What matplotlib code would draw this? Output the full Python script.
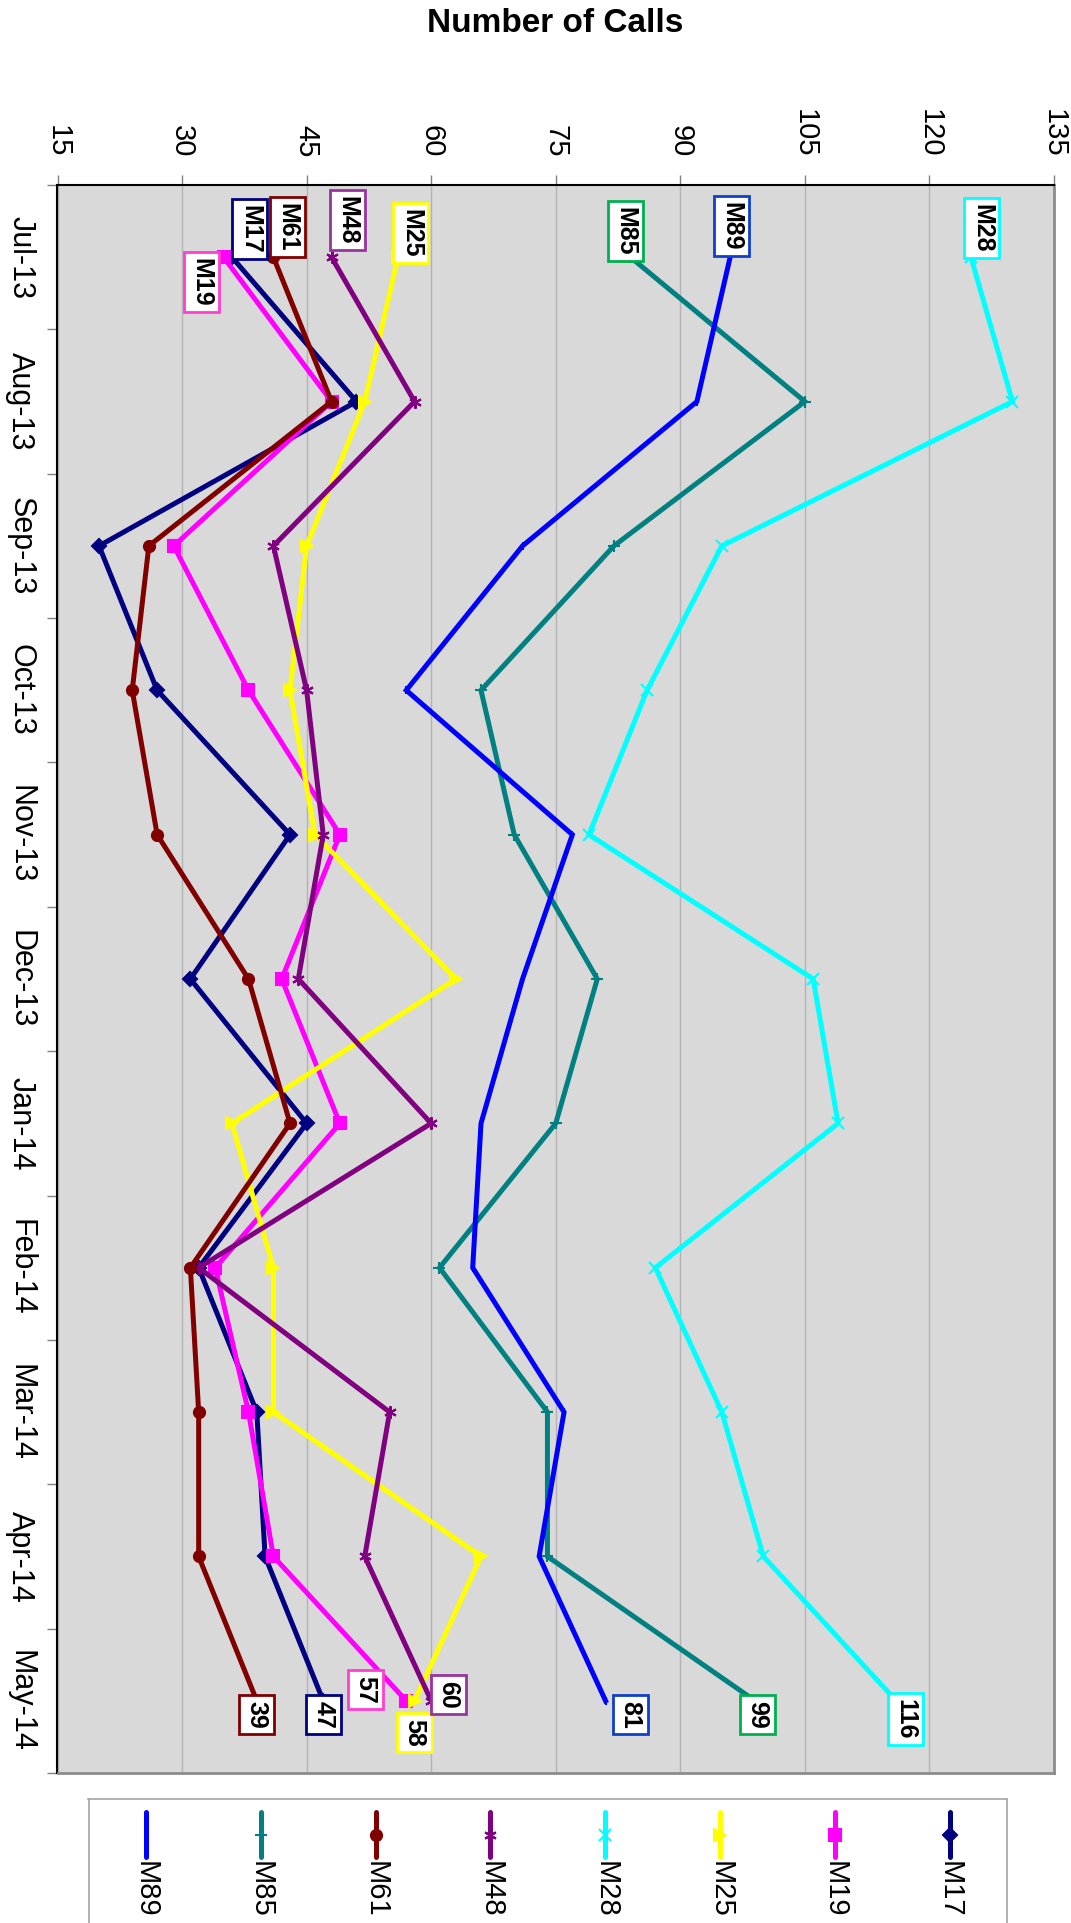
import numpy as np
import matplotlib
matplotlib.use('Agg')
import matplotlib.pyplot as plt

plt.rcParams['font.family'] = ['Liberation Sans', 'DejaVu Sans']

# data (months run top to bottom, calls run left to right)
months = ['Jul-13', 'Aug-13', 'Sep-13', 'Oct-13', 'Nov-13', 'Dec-13',
          'Jan-14', 'Feb-14', 'Mar-14', 'Apr-14', 'May-14']
call_ticks = [15, 30, 45, 60, 75, 90, 105, 120, 135]

m17 = [36, 51, 20, 27, 43, 31, 45, 32, 39, 40, 47]
m19 = [35, 48, 29, 38, 49, 42, 49, 34, 38, 41, 57]
m25 = [56, 52, 45, 43, 46, 63, 36, 41, 41, 66, 58]
m28 = [125, 130, 95, 86, 79, 106, 109, 87, 95, 100, 116]
m48 = [48, 58, 41, 45, 47, 44, 60, 32, 55, 52, 60]
m61 = [41, 48, 26, 24, 27, 38, 43, 31, 32, 32, 39]
m85 = [84, 105, 82, 66, 70, 80, 75, 61, 74, 74, 99]
m89 = [96, 92, 71, 57, 77, 71, 66, 65, 76, 73, 81]

# name, values, line colour, marker, marker size, label box colour,
# offset of first label, offset of last label (pixels)
series = [
    ('M17', m17, '#000080', 'D', 7, '#000080', (18, 28), (0, -14)),
    ('M19', m19, '#FF00FF', 's', 8, '#FF3FCF', (-22, -25), (-41, 11)),
    ('M25', m25, '#FFFF00', '>', 8, '#FFFF00', (13, 24), (0, -32)),
    ('M28', m28, '#00FFFF', 'x', 8, '#00FFFF', (11, 29), (9, -18)),
    ('M48', m48, '#800080', (6, 2, 0), 9, '#9933A0', (16, 37), (17, 6)),
    ('M61', m61, '#800000', 'o', 8, '#800000', (14, 30), (0, -14)),
    ('M85', m85, '#008080', '+', 8, '#00B050', (-5, 26), (2, -14)),
    ('M89', m89, '#0000FF', '|', 6, '#1040C8', (1, 31), (25, -14)),
]
legend_order = ['M89', 'M85', 'M61', 'M48', 'M28', 'M25', 'M19', 'M17']

W, H = 1071, 1923
fig = plt.figure(figsize=(W / 100, H / 100), dpi=100)
ax = fig.add_axes([57.5 / W, 1 - 1773 / H, (1054 - 57.5) / W, (1773 - 185) / H])
ax.set_facecolor('#D9D9D9')

pos = np.arange(len(months))
for name, vals, col, mk, ms, boxcol, off0, off1 in series:
    ax.plot(vals, pos, color=col, lw=3.6, marker=mk, ms=ms,
            mec=col, mfc=col, mew=1.5, solid_joinstyle='miter', zorder=3)
    ax.annotate(name, xy=(vals[0], pos[0]), xytext=off0, textcoords='offset pixels',
                rotation=-90, ha='center', va='center', fontsize=18, fontweight='bold',
                bbox=dict(boxstyle='square,pad=0.22', fc='white', ec=boxcol, lw=2), zorder=5)
    ax.annotate(str(vals[-1]), xy=(vals[-1], pos[-1]), xytext=off1, textcoords='offset pixels',
                rotation=-90, ha='center', va='center', fontsize=18, fontweight='bold',
                bbox=dict(boxstyle='square,pad=0.22', fc='white', ec=boxcol, lw=2), zorder=5)

ax.set_xlim(15, 135)
ax.set_ylim(len(months) - 0.5, -0.5)
ax.set_xticks(call_ticks)
ax.set_xticklabels(call_ticks, rotation=-90, fontsize=21)
ax.xaxis.tick_top()
ax.tick_params(axis='x', direction='out', length=7, width=1, color='#808080', pad=13)
ax.set_yticks(pos)
ax.set_yticklabels(months, rotation=-90, fontsize=22, va='center')
ax.set_yticks(np.arange(-0.5, len(months), 1), minor=True)
ax.tick_params(axis='y', which='major', length=0, pad=16)
ax.tick_params(axis='y', which='minor', direction='out', length=7, width=1, color='#808080')
ax.grid(axis='x', color='#B3B3B3', lw=1)
ax.set_axisbelow(True)
for side in ['top', 'left']:
    ax.spines[side].set_color('black')
    ax.spines[side].set_linewidth(1.5)
for side in ['right', 'bottom']:
    ax.spines[side].set_color('#8C8C8C')
    ax.spines[side].set_linewidth(2)

fig.text(555 / W, 1 - 24 / H, 'Number of Calls', ha='center', va='center',
         fontsize=24, fontweight='bold')

# legend, turned like the rest of the chart
lax = fig.add_axes([88.5 / W, 1 - 1940 / H, (1007 - 88.5) / W, (1940 - 1799) / H])
lax.set_xlim(88.5, 1007)
lax.set_ylim(1940, 1799)
lax.set_xticks([])
lax.set_yticks([])
for s in lax.spines.values():
    s.set_color('#A6A6A6')
    s.set_linewidth(1.2)
lookup = {s[0]: s for s in series}
for i, name in enumerate(legend_order):
    _, vals, col, mk, ms, _, _, _ = lookup[name]
    x = 145.7 + i * 114.9
    lax.plot([x, x], [1812, 1857], color=col, lw=3.6, solid_capstyle='round')
    lax.plot([x], [1834.5], marker=mk, ms=ms, color=col, mec=col, mew=1.5)
    lax.text(x, 1861, name, rotation=-90, ha='center', va='top', fontsize=21)

fig.savefig('out.png', dpi=100)
